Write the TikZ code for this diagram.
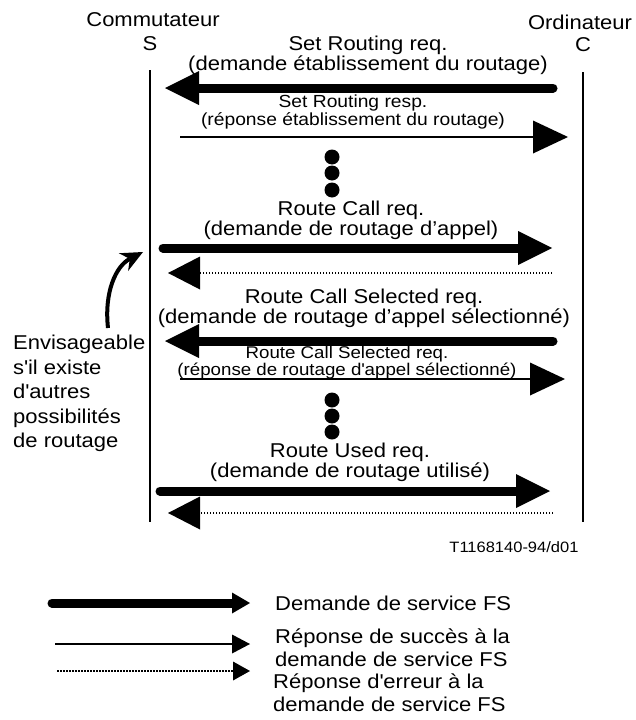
\documentclass[tikz,border=0pt]{standalone}
\usepackage{fontspec}
\setmainfont[FakeStretch=1.1]{Liberation Sans}
\usetikzlibrary{arrows.meta, calc}

\tikzset{
  big/.style={font=\fontsize{20}{20}\selectfont, align=center},
  small/.style={font=\fontsize{17.5}{18}\selectfont, align=center},
  life/.style={line width=2pt},
  req/.style={line width=9pt, line cap=round, -{Triangle[length=34pt, width=34pt, line width=0pt]}},
  resp/.style={line width=2pt, -{Triangle[length=35pt, width=33pt, line width=0pt]}},
  err/.style={line width=2pt, dash pattern=on 1.5pt off 1.5pt, -{Triangle[length=32pt, width=33pt, line width=0pt]}},
  legreq/.style={line width=9pt, line cap=round, -{Triangle[length=18pt, width=21pt, line width=0pt]}},
  legresp/.style={line width=2pt, -{Triangle[length=18pt, width=19pt, line width=0pt]}},
  legerr/.style={line width=2pt, dash pattern=on 1.5pt off 1.5pt, -{Triangle[length=17pt, width=19pt, line width=0pt]}},
  dotmark/.style={circle, fill, inner sep=0pt, minimum size=15pt},
}

\begin{document}
\begin{tikzpicture}[x=1pt, y=-1pt]
            \useasboundingbox (0,0) rectangle (635,720);

            \node[big] (comm) at (153,20) {Commutateur};
            \node[big] (S) at (150,44) {S};
            \node[big] (ordi) at (580,22) {Ordinateur};
            \node[big] (C) at (583,45) {C};

            \coordinate (sTop) at (150,70);
            \coordinate (sBot) at (150,522);
            \coordinate (cTop) at (583,72);
            \coordinate (cBot) at (583,522);
            \draw[life] (sTop) -- (sBot);
            \draw[life] (cTop) -- (cBot);

            % Set Routing
            \node[big] (setReq) at (368,55) {Set Routing req.\\(demande établissement du routage)};
            \coordinate (m1s) at (165,88);
            \coordinate (m1c) at (553,88);
            \draw[req] (m1c) -- (m1s);

            \node[small] (setResp) at (353,112) {Set Routing resp.\\(réponse établissement du routage)};
            \coordinate (m2s) at (180,137);
            \coordinate (m2c) at (568,137);
            \draw[resp] (m2s) -- (m2c);

            \foreach \y [count=\i] in {157,173,190}
                \node[dotmark] (dotA\i) at (332,\y) {};

            % Route Call
            \node[big] (callReq) at (351,220) {Route Call req.\\(demande de routage d’appel)};
            \coordinate (m3s) at (163,248);
            \coordinate (m3c) at (552,248);
            \draw[req] (m3s) -- (m3c);

            \coordinate (m4s) at (168,273);
            \coordinate (m4c) at (552,273);
            \draw[err] (m4c) -- (m4s);

            % Route Call Selected
            \node[big] (selReq) at (364,308) {Route Call Selected req.\\(demande de routage d’appel sélectionné)};
            \coordinate (m5s) at (165,341);
            \coordinate (m5c) at (553,341);
            \draw[req] (m5c) -- (m5s);

            \node[small, font=\fontsize{17}{14.5}\selectfont] (selResp) at (347,363) {Route Call Selected req.\\(réponse de routage d\textquotesingle appel sélectionné)};
            \coordinate (m6s) at (180,379);
            \coordinate (m6c) at (565,379);
            \draw[resp] (m6s) -- (m6c);

            \foreach \y [count=\i] in {400,416,432}
                \node[dotmark] (dotB\i) at (332,\y) {};

            % Route Used
            \node[big] (usedReq) at (350,462) {Route Used req.\\(demande de routage utilisé)};
            \coordinate (m7s) at (160,491);
            \coordinate (m7c) at (550,491);
            \draw[req] (m7s) -- (m7c);

            \coordinate (m8s) at (168,513);
            \coordinate (m8c) at (553,513);
            \draw[err] (m8c) -- (m8s);

            \node[anchor=east, font=\fontsize{15}{15}\selectfont] (ref) at (582,547) {T1168140-94/d01};

            % alternative routing
            \coordinate (cvTail) at (108,328);
            \coordinate (cvTip) at (143,252);
            \draw[line width=4pt, -{Stealth[length=22pt, width=20pt, line width=0pt]}]
            (cvTail) .. controls (104,292) and (116,266) .. (cvTip);
            \node[anchor=north west, inner sep=0pt, align=left, font=\fontsize{20}{24.5}\selectfont] (note) at (13,335)
            {Envisageable\\s\textquotesingle il existe\\d\textquotesingle autres\\possibilités\\de routage};

            % legend
            \coordinate (k1a) at (52,603);
            \coordinate (k1b) at (250,603);
            \draw[legreq] (k1a) -- (k1b);
            \node[anchor=west, inner sep=0pt, font=\fontsize{20}{23}\selectfont] (k1) at (275,603) {Demande de service FS};

            \coordinate (k2a) at (55,644);
            \coordinate (k2b) at (250,644);
            \draw[legresp] (k2a) -- (k2b);
            \node[anchor=west, inner sep=0pt, align=left, font=\fontsize{20}{23}\selectfont] (k2) at (275,647.5)
            {Réponse de succès à la\\demande de service FS};

            \coordinate (k3a) at (57,671);
            \coordinate (k3b) at (250,671);
            \draw[legerr] (k3a) -- (k3b);
            \node[anchor=west, inner sep=0pt, align=left, font=\fontsize{20}{23}\selectfont] (k3) at (273,692.5)
            {Réponse d\textquotesingle erreur à la\\demande de service FS};
        \end{tikzpicture}
\end{document}
